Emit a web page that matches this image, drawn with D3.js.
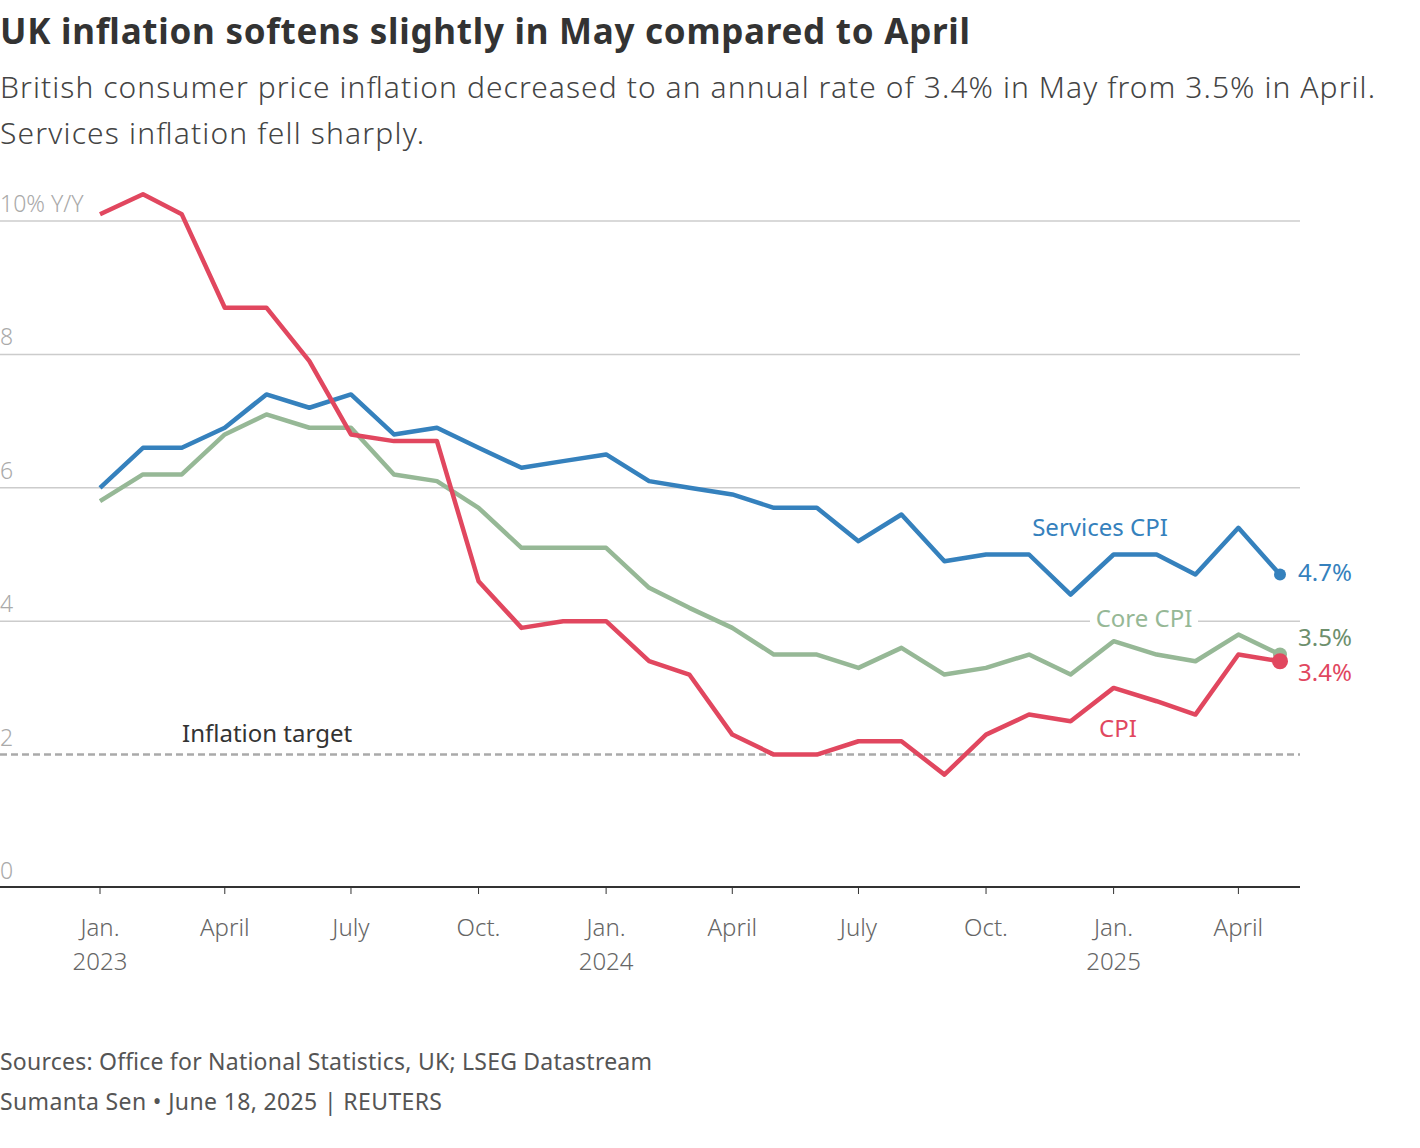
<!DOCTYPE html>
<html><head><meta charset="utf-8">
<script src="https://cdn.jsdelivr.net/npm/d3@7"></script>
<style>
body{margin:0;background:#fff;font-family:"Noto Sans",sans-serif}
</style></head><body>
<svg id="c" width="1420" height="1148"></svg>
<script>
'use strict'
var months = d3.range(29).map(function(i){ return new Date(2023, i, 1) })
var cpi = [10.1,10.4,10.1,8.7,8.7,7.9,6.8,6.7,6.7,4.6,3.9,4.0,4.0,3.4,3.2,2.3,2.0,2.0,2.2,2.2,1.7,2.3,2.6,2.5,3.0,2.8,2.6,3.5,3.4]
var core = [5.8,6.2,6.2,6.8,7.1,6.9,6.9,6.2,6.1,5.7,5.1,5.1,5.1,4.5,4.2,3.9,3.5,3.5,3.3,3.6,3.2,3.3,3.5,3.2,3.7,3.5,3.4,3.8,3.5]
var services = [6.0,6.6,6.6,6.9,7.4,7.2,7.4,6.8,6.9,6.6,6.3,6.4,6.5,6.1,6.0,5.9,5.7,5.7,5.2,5.6,4.9,5.0,5.0,4.4,5.0,5.0,4.7,5.4,4.7]
var yTicks = [0,2,4,6,8,10]
var xTickLabels = [['Jan.','2023'],['April'],['July'],['Oct.'],['Jan.','2024'],['April'],['July'],['Oct.'],['Jan.','2025'],['April']]
var target = 2

var svg = d3.select('#c')
  , x = d3.scaleTime().domain([months[0], months[28]]).range([100, 1280])
  , y = d3.scaleLinear().domain([0, 10]).range([888, 221])

svg.append('text').attr('x', 0).attr('y', 44).text('UK inflation softens slightly in May compared to April')
  .attr('textLength', 970).style('font-size', '35px').style('font-weight', 700).style('fill', '#333')
;[['British consumer price inflation decreased to an annual rate of 3.4% in May from 3.5% in April.', 98, 1375],
  ['Services inflation fell sharply.', 144, 424]].forEach(function(d){
  svg.append('text').attr('x', 0).attr('y', d[1]).text(d[0]).attr('textLength', d[2])
    .style('font-size', '30px').style('font-weight', 300).style('fill', '#444')
})

// grid
yTicks.filter(function(d){ return d > 0 && d !== target }).forEach(function(d){
  svg.append('line').attr('x1', 0).attr('x2', 1300).attr('y1', y(d)).attr('y2', y(d))
    .style('stroke', '#ccc').style('stroke-width', 1.5)
})
yTicks.forEach(function(d){
  svg.append('text').attr('x', 0).attr('y', y(d) - 9).text(d === 10 ? '10% Y/Y' : d)
    .style('font-size', '23px').style('fill', '#aaa').style('font-weight', 300)
})
svg.append('line').attr('x1', 0).attr('x2', 1300).attr('y1', y(target)).attr('y2', y(target))
  .style('stroke', '#aaa').style('stroke-width', 2.5).style('stroke-dasharray', '7,4')
svg.append('text').attr('x', 182).attr('y', y(target) - 13).text('Inflation target')
  .style('font-size', '24px').style('fill', '#333')

// x axis
var ax = svg.append('g').attr('transform', 'translate(0,887)')
ax.append('line').attr('x1', 0).attr('x2', 1300).style('stroke', '#333').style('stroke-width', 2)
xTickLabels.forEach(function(lab, i){
  var xx = x(months[i * 3])
  ax.append('line').attr('x1', xx).attr('x2', xx).attr('y1', 0).attr('y2', 7).style('stroke', '#333')
  lab.forEach(function(t, j){
    ax.append('text').attr('x', xx).attr('y', 49 + j * 34).attr('text-anchor', 'middle').text(t)
      .style('font-size', '24px').style('fill', '#666').style('font-weight', 300)
  })
})

var line = d3.line().x(function(d, i){ return x(months[i]) }).y(function(d){ return y(d) })
var series = [
  {v: core, c: '#96b896', lc: '#6d8f6d', lab: '3.5%', ly: 646, r: 7},
  {v: services, c: '#3581bd', lc: '#3581bd', lab: '4.7%', ly: 581, r: 6},
  {v: cpi, c: '#e1475f', lc: '#e1475f', lab: '3.4%', ly: 681, r: 8}
]
series.forEach(function(s){
  svg.append('path').datum(s.v).attr('d', line).style('fill', 'none').style('stroke', s.c)
    .style('stroke-width', 4.5).style('stroke-linejoin', 'round')
  svg.append('circle').attr('cx', x(months[28])).attr('cy', y(s.v[28])).attr('r', s.r).style('fill', s.c)
  svg.append('text').attr('x', 1298).attr('y', s.ly).text(s.lab).style('font-size', '24px').style('fill', s.lc)
})
// inline labels
svg.append('text').attr('x', 1100).attr('y', 536).attr('text-anchor', 'middle').text('Services CPI').style('font-size', '24px').style('fill', '#3581bd')
svg.append('rect').attr('x', 1090).attr('y', 608).attr('width', 108).attr('height', 22).style('fill', '#fff')
svg.append('text').attr('x', 1144).attr('y', 627).attr('text-anchor', 'middle').text('Core CPI').style('font-size', '24px').style('fill', '#96b896')
svg.append('text').attr('x', 1118).attr('y', 737).attr('text-anchor', 'middle').text('CPI').style('font-size', '24px').style('fill', '#e1475f')

svg.append('text').attr('x', 0).attr('y', 1070).text('Sources: Office for National Statistics, UK; LSEG Datastream').attr('textLength', 652).style('font-size', '23px').style('fill', '#555')
svg.append('text').attr('x', 0).attr('y', 1110).text('Sumanta Sen • June 18, 2025 | REUTERS').attr('textLength', 442).style('font-size', '23px').style('fill', '#555')
</script></body></html>
